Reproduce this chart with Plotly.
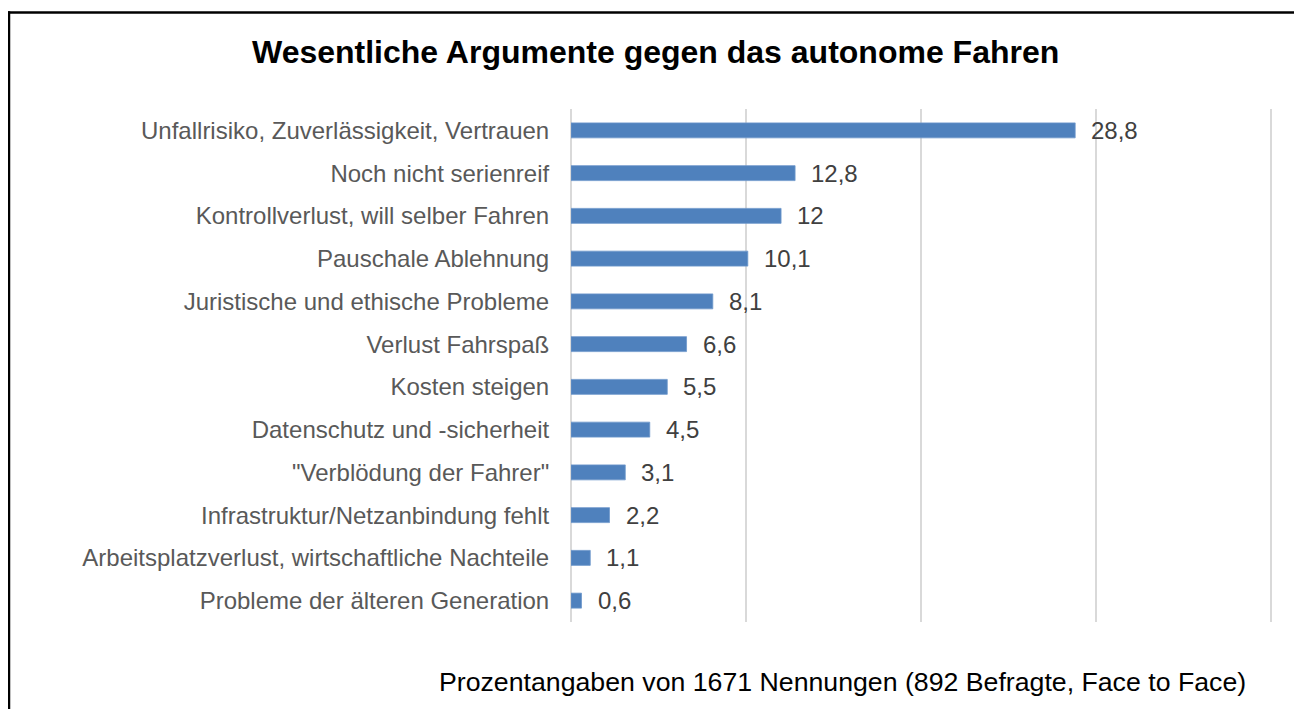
import plotly.graph_objects as go

categories = [
    "Unfallrisiko, Zuverlässigkeit, Vertrauen",
    "Noch nicht serienreif",
    "Kontrollverlust, will selber Fahren",
    "Pauschale Ablehnung",
    "Juristische und ethische Probleme",
    "Verlust Fahrspaß",
    "Kosten steigen",
    "Datenschutz und -sicherheit",
    "\"Verblödung der Fahrer\"",
    "Infrastruktur/Netzanbindung fehlt",
    "Arbeitsplatzverlust, wirtschaftliche Nachteile",
    "Probleme der älteren Generation",
]
values = [28.8, 12.8, 12, 10.1, 8.1, 6.6, 5.5, 4.5, 3.1, 2.2, 1.1, 0.6]
labels = [("%g" % v).replace(".", ",") for v in values]

title = "Wesentliche Argumente gegen das autonome Fahren"
footnote = "Prozentangaben von 1671 Nennungen (892 Befragte, Face to Face)"

XMAX = 40.1
W, H = 1294, 701
L, T, B = 563, 100.6, 86.6
pw = 700 * XMAX / 40
R = W - L - pw
ph = H - T - B

def px(x):
    return (x - L) / pw

def py(y):
    return (H - B - y) / ph

FONT = "Liberation Sans, Arial"

fig = go.Figure()
fig.add_trace(go.Bar(
    x=values, y=categories, orientation="h",
    marker=dict(color="#4F81BD", line=dict(color="#6f98cc", width=0.8)),
    hoverinfo="skip",
))

for c, v, lab in zip(categories, values, labels):
    fig.add_annotation(x=v, y=c, xref="x", yref="y", text=lab, showarrow=False,
                       xanchor="left", yanchor="middle", xshift=14,
                       font=dict(family=FONT, size=24, color="#404040"))

fig.add_annotation(x=px(647.5), y=py(44), xref="paper", yref="paper", text="<b>" + title + "</b>",
                   showarrow=False, xanchor="center", yanchor="middle",
                   font=dict(family=FONT, size=32, color="#000000"))

fig.add_annotation(x=px(834), y=py(674), xref="paper", yref="paper",
                   text=footnote, showarrow=False, xanchor="center", yanchor="middle",
                   font=dict(family=FONT, size=26.7, color="#000000"))

# outer frame: only the top and left edges are visible in the window
frame = dict(color="#000000", width=2.5)
fig.add_shape(type="line", xref="paper", yref="paper",
              x0=px(0), x1=px(W + 30), y0=py(4), y1=py(4), line=frame, layer="above")
fig.add_shape(type="line", xref="paper", yref="paper",
              x0=px(1.2), x1=px(1.2), y0=py(2.8), y1=py(H + 30), line=frame, layer="above")

fig.update_layout(
    width=W, height=H,
    margin=dict(l=L, r=R, t=T, b=B),
    paper_bgcolor="white", plot_bgcolor="white",
    showlegend=False,
    bargap=0.65,
    xaxis=dict(range=[0, XMAX], tickvals=[10, 20, 30, 40], showticklabels=False, showgrid=True,
               gridcolor="#d9d9d9", gridwidth=2, zeroline=True, zerolinecolor="#d9d9d9",
               zerolinewidth=2, fixedrange=True),
    yaxis=dict(autorange="reversed", showgrid=False, ticks="outside", ticklen=16,
               tickcolor="rgba(0,0,0,0)",
               tickfont=dict(family=FONT, size=24, color="#595959"),
               fixedrange=True),
)

fig.write_html("out.html")
